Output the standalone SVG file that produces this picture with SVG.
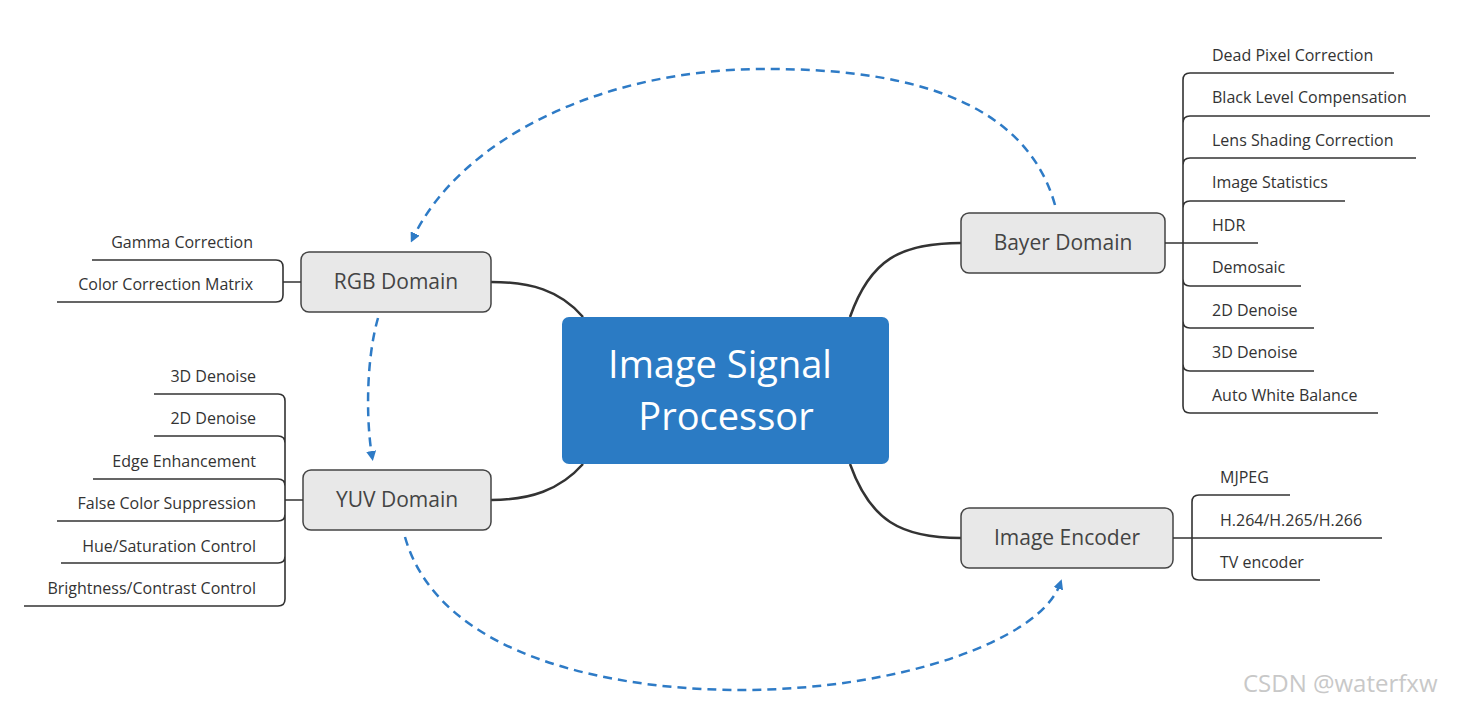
<svg xmlns="http://www.w3.org/2000/svg" width="1461" height="707" viewBox="0 0 1461 707">
<style>
text{font-family:"Open Sans","Noto Sans","Liberation Sans",sans-serif;fill:#333}
.sub{font-size:16px}
.dom{font-size:21px;fill:#444}
.box{fill:#e8e8e8;stroke:#444;stroke-width:1.5}
.ln{fill:none;stroke:#333;stroke-width:1.6}
.br{fill:none;stroke:#333;stroke-width:2.5}
.dash{fill:none;stroke:#2e7bc6;stroke-width:2.5;stroke-dasharray:9 6}
</style>
<defs><marker id="ah" viewBox="0 0 10 10" refX="5" refY="5" markerWidth="4" markerHeight="4" orient="auto"><path d="M0,0L10,5L0,10z" fill="#2e7bc6"/></marker></defs>
<rect width="1461" height="707" fill="#fff"/>
<g id="connectors">
<path class="br" d="M850,317 C870,260 900,243 961,243"/>
<path class="br" d="M583,317 C560,290 530,282 491,282"/>
<path class="br" d="M583,464 C560,490 530,500 491,500"/>
<path class="br" d="M850,464 C870,520 900,538 961,538"/>
<path class="dash" d="M1055,205 C1020,80 860,69 765,69 C600,69 460,140 413,238" marker-end="url(#ah)"/>
<path class="dash" d="M378,318 C366,360 366,420 372,456" marker-end="url(#ah)"/>
<path class="dash" d="M405,537 C440,660 620,690 740,690 C900,690 1040,640 1060,584" marker-end="url(#ah)"/>
</g>
<g id="center"><rect x="562" y="317" width="327" height="147" rx="7" fill="#2b7bc4"/>
<text x="720" y="378" text-anchor="middle" font-size="38" style="fill:#fff">Image Signal</text>
<text x="726" y="430" text-anchor="middle" font-size="38" style="fill:#fff">Processor</text></g>
<g id="bayer"><rect class="box" x="961" y="213" width="204" height="60" rx="8"/>
<text class="dom" x="1063" y="250" text-anchor="middle">Bayer Domain</text>
<path class="ln" d="M1165,243H1258M1183,243V80Q1183,73 1190,73H1394M1183,123Q1183,116 1190,116H1430M1183,165Q1183,158 1190,158H1416M1183,208Q1183,201 1190,201H1345M1183,243V406Q1183,413 1190,413H1378M1183,279Q1183,286 1190,286H1301M1183,321Q1183,328 1190,328H1314M1183,364Q1183,371 1190,371H1314"/>
<g class="sub"><text x="1212" y="61">Dead Pixel Correction</text><text x="1212" y="103">Black Level Compensation</text><text x="1212" y="146">Lens Shading Correction</text><text x="1212" y="188">Image Statistics</text><text x="1212" y="231">HDR</text><text x="1212" y="273">Demosaic</text><text x="1212" y="316">2D Denoise</text><text x="1212" y="358">3D Denoise</text><text x="1212" y="401">Auto White Balance</text></g></g>
<g id="rgb"><rect class="box" x="301" y="252" width="190" height="60" rx="8"/>
<text class="dom" x="396" y="289" text-anchor="middle">RGB Domain</text>
<path class="ln" d="M301,282H283M92,260H276Q283,260 283,267V295Q283,302 276,302H57"/>
<g class="sub" text-anchor="end"><text x="253" y="248">Gamma Correction</text><text x="253" y="290">Color Correction Matrix</text></g></g>
<g id="yuv"><rect class="box" x="303" y="470" width="188" height="60" rx="8"/>
<text class="dom" x="397" y="507" text-anchor="middle">YUV Domain</text>
<path class="ln" d="M303,500H285M154,394H278Q285,394 285,401V599Q285,606 278,606H24M154,436H278Q285,436 285,443M93,479H278Q285,479 285,486M57,521H278Q285,521 285,514M61,563H278Q285,563 285,556"/>
<g class="sub" text-anchor="end"><text x="256" y="382">3D Denoise</text><text x="256" y="424">2D Denoise</text><text x="256" y="467">Edge Enhancement</text><text x="256" y="509">False Color Suppression</text><text x="256" y="552">Hue/Saturation Control</text><text x="256" y="594">Brightness/Contrast Control</text></g></g>
<g id="encoder"><rect class="box" x="961" y="508" width="212" height="60" rx="8"/>
<text class="dom" x="1067" y="545" text-anchor="middle">Image Encoder</text>
<path class="ln" d="M1173,538H1382M1192,538V502Q1192,495 1199,495H1290M1192,538V573Q1192,580 1199,580H1320"/>
<g class="sub"><text x="1220" y="483">MJPEG</text><text x="1220" y="526">H.264/H.265/H.266</text><text x="1220" y="568">TV encoder</text></g></g>
<text x="1243" y="692" font-size="24" style="fill:#c8c8c8">CSDN @waterfxw</text>
</svg>
